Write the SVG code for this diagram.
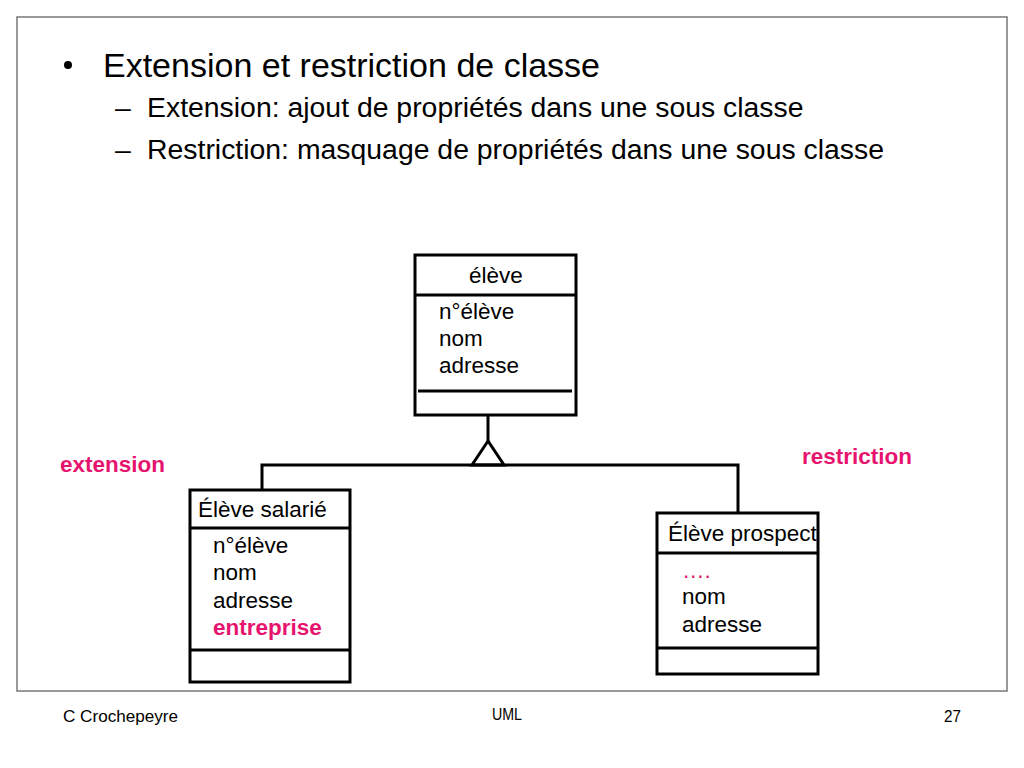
<svg xmlns="http://www.w3.org/2000/svg" width="1024" height="768" viewBox="0 0 1024 768">
<style>
text{font-family:"Liberation Sans",Arial,sans-serif;fill:#000}
.t{font-size:22.5px}
.hl{fill:#E6146E;font-weight:bold;font-size:22.5px}
.dots{fill:#E6146E;font-size:22.5px}
.sub{font-size:28.4px}
.box{fill:#fff;stroke:#000;stroke-width:3}
.ln{stroke:#000;stroke-width:3;fill:none}
.ft{font-size:16px}
</style>
<rect width="1024" height="768" fill="#fff"/>
<rect x="17" y="17" width="990" height="674" fill="none" stroke="#777" stroke-width="1.5"/>
<g id="title">
<circle cx="68" cy="65" r="4"/>
<text x="103" y="77" font-size="34">Extension et restriction de classe</text>
<text class="sub" x="115" y="117">–</text>
<text class="sub" x="147" y="117">Extension: ajout de propriétés dans une sous classe</text>
<text class="sub" x="115" y="159">–</text>
<text class="sub" x="147" y="159">Restriction: masquage de propriétés dans une sous classe</text>
</g>
<g id="connectors">
<line class="ln" x1="488" y1="415" x2="488" y2="442"/>
<polygon class="ln" points="488,441 472,465 504,465" fill="#fff"/>
<polyline class="ln" points="262,490 262,465 738,465 738,513"/>
</g>
<g id="eleve">
<rect class="box" x="415" y="255" width="161" height="160"/>
<line class="ln" x1="415" y1="295" x2="576" y2="295"/>
<line class="ln" x1="418" y1="391" x2="572" y2="391"/>
<text class="t" x="496" y="283" text-anchor="middle">élève</text>
<text class="t" x="439" y="319">n°élève</text>
<text class="t" x="439" y="346">nom</text>
<text class="t" x="439" y="373">adresse</text>
</g>
<g id="eleve-salarie">
<rect class="box" x="190" y="490" width="160" height="192"/>
<line class="ln" x1="190" y1="528" x2="350" y2="528"/>
<line class="ln" x1="190" y1="650" x2="350" y2="650"/>
<text class="t" x="198" y="517">Élève salarié</text>
<text class="t" x="213" y="553">n°élève</text>
<text class="t" x="213" y="580">nom</text>
<text class="t" x="213" y="608">adresse</text>
<text class="hl" x="213" y="635">entreprise</text>
</g>
<g id="eleve-prospect">
<rect class="box" x="657" y="513" width="161" height="161"/>
<line class="ln" x1="657" y1="553" x2="818" y2="553"/>
<line class="ln" x1="657" y1="648" x2="818" y2="648"/>
<text class="t" x="668" y="541">Élève prospect</text>
<text class="dots" x="682" y="578">….</text>
<text class="t" x="682" y="604">nom</text>
<text class="t" x="682" y="632">adresse</text>
</g>
<g id="labels">
<text class="hl" x="60" y="472">extension</text>
<text class="hl" x="802" y="464">restriction</text>
</g>
<g id="footer">
<text class="ft" x="63" y="722" textLength="115" lengthAdjust="spacingAndGlyphs">C Crochepeyre</text>
<text class="ft" x="492" y="720" textLength="30" lengthAdjust="spacingAndGlyphs">UML</text>
<text class="ft" x="944" y="722" textLength="17" lengthAdjust="spacingAndGlyphs">27</text>
</g>
</svg>
